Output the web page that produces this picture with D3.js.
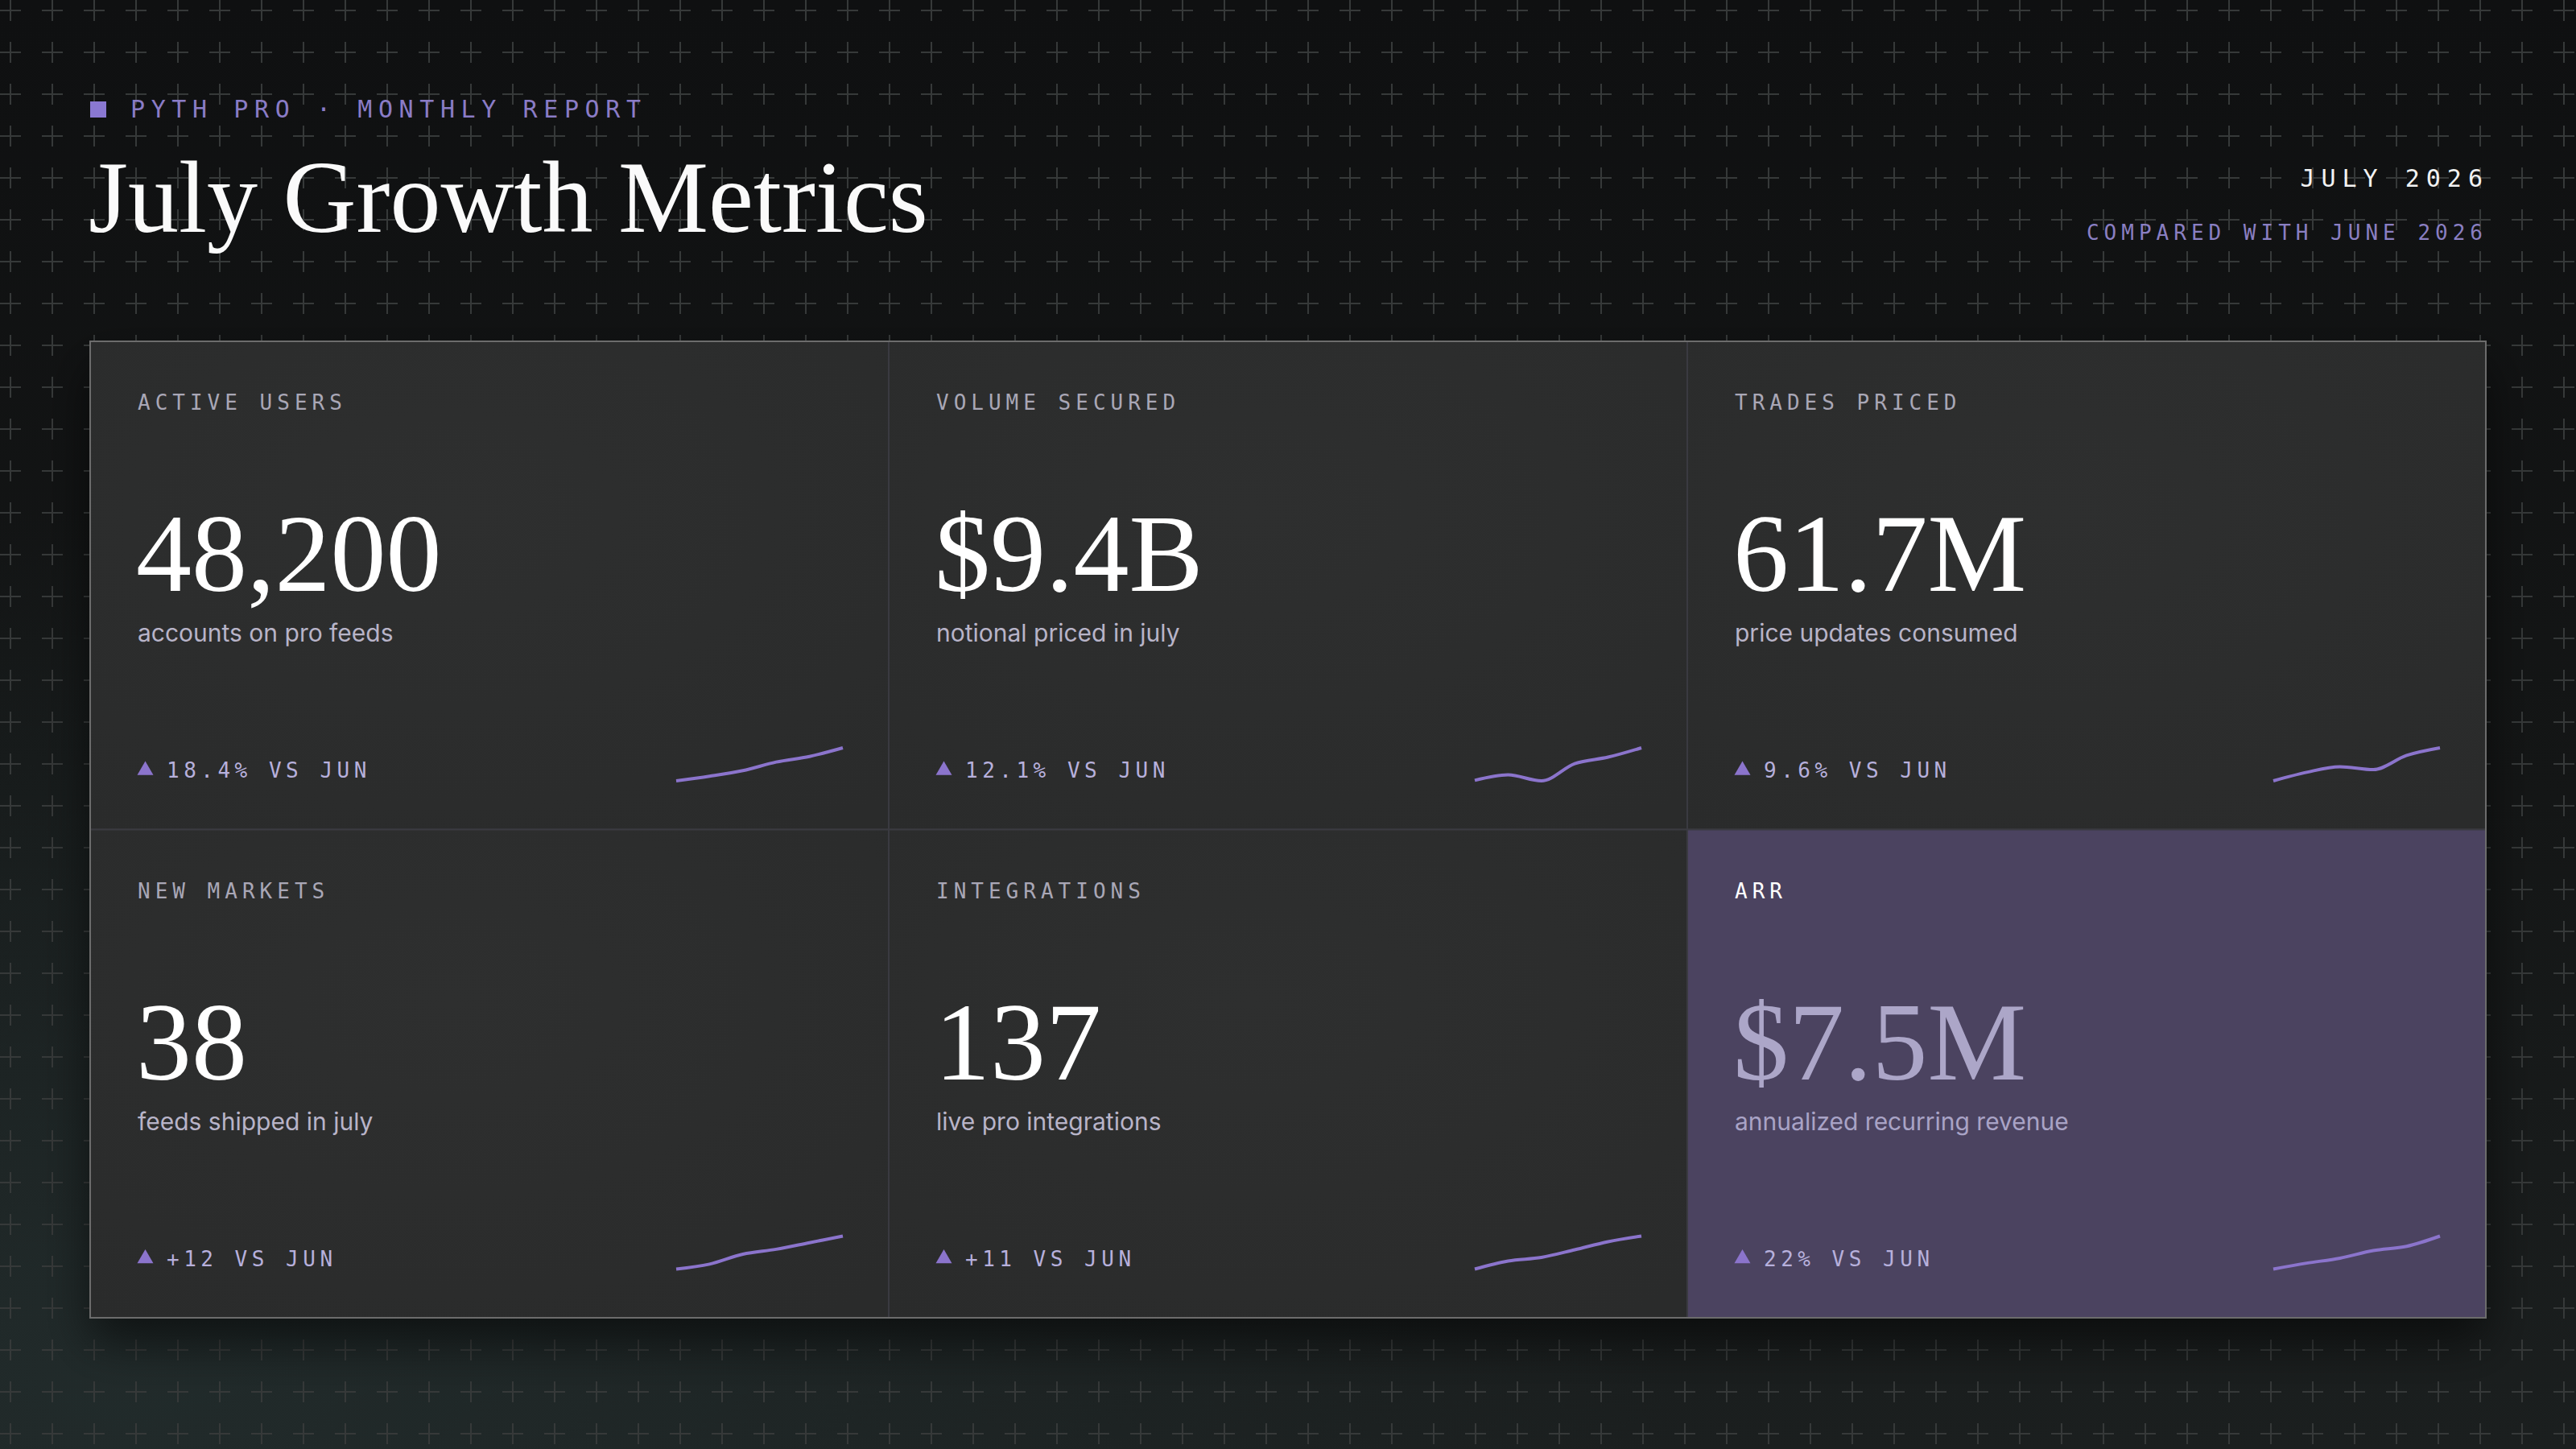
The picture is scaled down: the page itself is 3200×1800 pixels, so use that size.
<!DOCTYPE html>
<html>
<head>
<meta charset="utf-8">
<script src="https://cdn.jsdelivr.net/npm/d3@7"></script>
<style>
  html, body { margin: 0; padding: 0; background: #111213; }
  svg { display: block; }
</style>
</head>
<body>
<div id="chart-container"></div>
<script>
const width = 3200;
const height = 1800;

// card contents, read left to right, top to bottom
const labels = ["ACTIVE USERS", "VOLUME SECURED", "TRADES PRICED", "NEW MARKETS", "INTEGRATIONS", "ARR"];
const values = ["48,200", "$9.4B", "61.7M", "38", "137", "$7.5M"];
const captions = [
  "accounts on pro feeds",
  "notional priced in july",
  "price updates consumed",
  "feeds shipped in july",
  "live pro integrations",
  "annualized recurring revenue",
];
const deltas = ["18.4% VS JUN", "12.1% VS JUN", "9.6% VS JUN", "+12 VS JUN", "+11 VS JUN", "22% VS JUN"];

// sparkline series, Feb..Jul
const months = ["Feb", "Mar", "Apr", "May", "Jun", "Jul"];
const activeUsers = [19400, 23400, 28300, 35800, 40700, 48200];
const volumeSecured = [5.9, 6.5, 5.85, 7.7, 8.4, 9.4];
const tradesPriced = [38.2, 44.3, 48.3, 46.2, 56.3, 61.7];
const newMarkets = [18, 21, 27, 30, 34, 38];
const integrations = [72, 88, 95, 110, 126, 137];
const arr = [3.15, 3.93, 4.59, 5.59, 6.15, 7.5];
const trends = [activeUsers, volumeSecured, tradesPriced, newMarkets, integrations, arr];

const highlighted = 5;

const MONO = "'DejaVu Sans Mono', 'Liberation Mono', monospace";
const SERIF = "'Liberation Serif', 'DejaVu Serif', serif";
const SANS = "Inter, 'Noto Sans', sans-serif";

const svg = d3
  .select("#chart-container")
  .append("svg")
  .attr("width", width)
  .attr("height", height);

const defs = svg.append("defs");

// background wash
const bg = defs
  .append("linearGradient")
  .attr("id", "bg")
  .attr("x1", 0).attr("y1", 0).attr("x2", 0).attr("y2", 1);
bg.append("stop").attr("offset", "0%").attr("stop-color", "#0f1011");
bg.append("stop").attr("offset", "55%").attr("stop-color", "#141616");
bg.append("stop").attr("offset", "100%").attr("stop-color", "#1b1f1f");

const glow = defs
  .append("radialGradient")
  .attr("id", "glow")
  .attr("cx", 0.05).attr("cy", 0.95).attr("r", 0.6);
glow.append("stop").attr("offset", "0%").attr("stop-color", "#243030").attr("stop-opacity", 0.7);
glow.append("stop").attr("offset", "100%").attr("stop-color", "#243030").attr("stop-opacity", 0);

// plus grid
const plus = defs
  .append("pattern")
  .attr("id", "plus")
  .attr("patternUnits", "userSpaceOnUse")
  .attr("width", 52)
  .attr("height", 52);
plus.append("line").attr("x1", 0).attr("x2", 26).attr("y1", 13).attr("y2", 13);
plus.append("line").attr("x1", 13).attr("x2", 13).attr("y1", 0).attr("y2", 26);
plus.selectAll("line").attr("stroke", "#363939").attr("stroke-width", 2);

const cardFill = defs
  .append("radialGradient")
  .attr("id", "cardFill")
  .attr("cx", 0.45).attr("cy", 0.35).attr("r", 0.8);
cardFill.append("stop").attr("offset", "0%").attr("stop-color", "#2e2f2f");
cardFill.append("stop").attr("offset", "100%").attr("stop-color", "#2a2b2b");

const shadow = defs
  .append("filter")
  .attr("id", "shadow")
  .attr("x", "-10%").attr("y", "-10%").attr("width", "120%").attr("height", "130%");
shadow
  .append("feDropShadow")
  .attr("dx", 0).attr("dy", 30).attr("stdDeviation", 30)
  .attr("flood-color", "#000").attr("flood-opacity", 0.55);

svg.append("rect").attr("width", width).attr("height", height).attr("fill", "url(#bg)");
svg.append("rect").attr("width", width).attr("height", height).attr("fill", "url(#glow)");
svg.append("rect").attr("width", width).attr("height", height).attr("fill", "url(#plus)");

// header
svg.append("rect")
  .attr("x", 112).attr("y", 126)
  .attr("width", 20).attr("height", 20)
  .attr("fill", "#8a78d2");

svg.append("text")
  .attr("x", 162).attr("y", 146)
  .attr("font-family", MONO).attr("font-size", 30)
  .attr("letter-spacing", 7.6)
  .attr("fill", "#8a7cc6")
  .text("PYTH PRO · MONTHLY REPORT");

svg.append("text")
  .attr("x", 110).attr("y", 288)
  .attr("font-family", SERIF).attr("font-size", 126)
  .attr("fill", "#fafafa")
  .text("July Growth Metrics");

svg.append("text")
  .attr("x", 3084 + 8).attr("y", 232)
  .attr("text-anchor", "end")
  .attr("font-family", MONO).attr("font-size", 30)
  .attr("letter-spacing", 8)
  .attr("fill", "#f2f2f2")
  .text("JULY 2026");

svg.append("text")
  .attr("x", 3084 + 6).attr("y", 298)
  .attr("text-anchor", "end")
  .attr("font-family", MONO).attr("font-size", 26)
  .attr("letter-spacing", 6)
  .attr("fill", "#8a7fc2")
  .text("COMPARED WITH JUNE 2026");

// card grid
const col = d3.scaleBand().domain(d3.range(3)).range([112, 3088]);
const row = d3.scaleBand().domain(d3.range(2)).range([424, 1637]);

const cards = labels.map((d, i) => ({
  label: d,
  value: values[i],
  caption: captions[i],
  delta: deltas[i],
  trend: trends[i],
  col: i % 3,
  row: Math.floor(i / 3),
  hi: i === highlighted,
}));

svg.append("rect")
  .attr("x", col.range()[0]).attr("y", row.range()[0])
  .attr("width", col.range()[1] - col.range()[0])
  .attr("height", row.range()[1] - row.range()[0])
  .attr("fill", "#2b2c2c")
  .attr("filter", "url(#shadow)");

const card = svg
  .selectAll(".card")
  .data(cards)
  .enter()
  .append("g")
  .attr("class", "card")
  .attr("transform", (d) => `translate(${col(d.col)},${row(d.row)})`);

card.append("rect")
  .attr("width", col.bandwidth())
  .attr("height", row.bandwidth())
  .attr("fill", (d) => (d.hi ? "#4b4360" : "url(#cardFill)"))
  .attr("stroke", "#3a3a41")
  .attr("stroke-width", 2);

card.append("text")
  .attr("x", 59).attr("y", 85)
  .attr("font-family", MONO).attr("font-size", 26)
  .attr("letter-spacing", 6)
  .attr("fill", (d) => (d.hi ? "#ffffff" : "#a9a7b6"))
  .text((d) => d.label);

card.append("text")
  .attr("x", 57).attr("y", 310)
  .attr("font-family", SERIF).attr("font-size", 138)
  .attr("fill", (d) => (d.hi ? "#aca6c8" : "#ffffff"))
  .text((d) => d.value);

card.append("text")
  .attr("x", 59).attr("y", 373)
  .attr("font-family", SANS).attr("font-size", 30)
  .attr("fill", (d) => (d.hi ? "#a9a3c6" : "#b8b4c8"))
  .text((d) => d.caption);

card.append("path")
  .attr("transform", "translate(68.5,533)")
  .attr("d", d3.symbol(d3.symbolTriangle, 173))
  .attr("fill", "#8b74cc");

card.append("text")
  .attr("x", 95).attr("y", 542)
  .attr("font-family", MONO).attr("font-size", 26)
  .attr("letter-spacing", 5.5)
  .attr("fill", "#b7b0dc")
  .text((d) => d.delta);

// sparklines
const x = d3.scalePoint().domain(months).range([728, 935]);

card.each(function (d) {
  const y = d3.scaleLinear().domain(d3.extent(d.trend)).range([546, 505]);
  const line = d3
    .line()
    .x((v, i) => x(months[i]))
    .y((v) => y(v))
    .curve(d3.curveMonotoneX);
  d3.select(this)
    .append("path")
    .datum(d.trend)
    .attr("fill", "none")
    .attr("stroke", "#8b74cc")
    .attr("stroke-width", 4)
    .attr("stroke-linejoin", "round")
    .attr("d", line);
});

// outer frame
svg.append("rect")
  .attr("x", col.range()[0]).attr("y", row.range()[0])
  .attr("width", col.range()[1] - col.range()[0])
  .attr("height", row.range()[1] - row.range()[0])
  .attr("fill", "none")
  .attr("stroke", "#6c6c6c")
  .attr("stroke-width", 2);
</script>
</body>
</html>
